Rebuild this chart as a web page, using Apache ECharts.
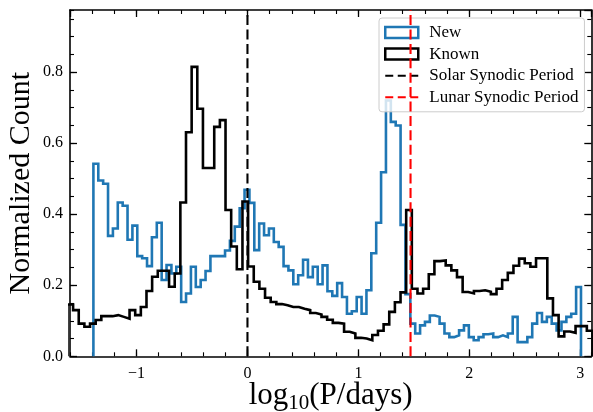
<!DOCTYPE html>
<html>
<head>
<meta charset="utf-8">
<script src="https://cdn.jsdelivr.net/npm/echarts@6/dist/echarts.min.js"></script>
<style>
  html, body { margin: 0; padding: 0; background: #fff; }
  #chart { width: 593px; height: 412px; }
</style>
</head>
<body>
<div id="chart"></div>
<script>
// ---- Histogram data: log10(period / days), normalized counts per bin ----
const newBinStart = -1.389;
const newBinWidth = 0.04396;
const newCounts = [
  0.542, 0.495, 0.486, 0.339, 0.360, 0.433, 0.424, 0.328, 0.368, 0.282,
  0.276, 0.254, 0.335, 0.376, 0.215, 0.257, 0.233, 0.252, 0.153, 0.177,
  0.252, 0.195, 0.215, 0.240, 0.282, 0.282, 0.282, 0.298, 0.325, 0.365,
  0.417, 0.469, 0.432, 0.299, 0.374, 0.341, 0.360, 0.322, 0.308, 0.254,
  0.242, 0.203, 0.228, 0.272, 0.223, 0.252, 0.203, 0.256, 0.183, 0.170,
  0.206, 0.167, 0.120, 0.127, 0.167, 0.120, 0.186, 0.290, 0.376, 0.518,
  0.720, 0.660, 0.650, 0.370, 0.175, 0.092, 0.064, 0.087, 0.097, 0.115,
  0.111, 0.092, 0.064, 0.054, 0.059, 0.073, 0.087, 0.054, 0.045, 0.054,
  0.062, 0.064, 0.054, 0.059, 0.054, 0.064, 0.111, 0.040, 0.040, 0.054,
  0.092, 0.122, 0.097, 0.111, 0.092, 0.073, 0.097, 0.111, 0.120, 0.195
];

const knownBinStart = -1.623;
const knownBinWidth = 0.0509;
const knownCounts = [
  0.146, 0.130, 0.092, 0.083, 0.092, 0.102, 0.113, 0.113, 0.116, 0.111,
  0.106, 0.130, 0.116, 0.139, 0.184, 0.224, 0.241, 0.241, 0.196, 0.233,
  0.433, 0.631, 0.815, 0.697, 0.530, 0.530, 0.646, 0.665, 0.412, 0.309,
  0.245, 0.436, 0.253, 0.210, 0.190, 0.165, 0.153, 0.147, 0.144, 0.139,
  0.139, 0.134, 0.130, 0.122, 0.118, 0.111, 0.103, 0.094, 0.092, 0.069,
  0.064, 0.052, 0.050, 0.045, 0.060, 0.072, 0.090, 0.125, 0.152, 0.180,
  0.412, 0.190, 0.177, 0.190, 0.231, 0.268, 0.270, 0.256, 0.242, 0.223,
  0.181, 0.177, 0.184, 0.186, 0.182, 0.175, 0.190, 0.215, 0.235, 0.255,
  0.275, 0.262, 0.252, 0.276, 0.276, 0.163, 0.116, 0.056, 0.070, 0.066,
  0.085, 0.085, 0.072
];

// Reference periods (log10 of days)
const solarSynodicLog = Math.log10(1.0);
const lunarSynodicLog = Math.log10(29.53);

// Axis ranges and tick spacing
const xRange = [-1.6, 3.1];
const yRange = [0, 0.975];
const xMinorStep = 0.2;
const yMajorStep = 0.2;
const yMinorStep = 0.05;

const seriesNames = ['New', 'Known', 'Solar Synodic Period', 'Lunar Synodic Period'];

// ---- helpers ----
const FONT = 'Liberation Serif';
const BLUE = '#1f77b4';

// Outline of a step histogram: corners of every bin, dropping to zero at both ends
function stepOutline(start, width, counts) {
  const pts = [[start, 0]];
  counts.forEach((c, i) => {
    pts.push([start + i * width, c]);
    pts.push([start + (i + 1) * width, c]);
  });
  pts.push([start + counts.length * width, 0]);
  return pts;
}

function tickText(v) {
  if (v < 0) return '\u2212' + Math.abs(v);
  return String(v);
}

const spine = { show: true, onZero: false, lineStyle: { color: '#000', width: 1.6 } };
const noSpine = { show: false, onZero: false };
const majorTick = { show: true, inside: true, length: 7, lineStyle: { color: '#000', width: 1.3 } };
const minorTickStyle = { show: true, inside: true, length: 4, lineStyle: { color: '#000', width: 1.1 } };

function xAxisDef(position, major, withLabels) {
  const ax = {
    type: 'value', gridIndex: 0, position: position,
    min: xRange[0], max: xRange[1],
    axisLine: major ? spine : noSpine,
    axisTick: major ? majorTick : minorTickStyle,
    splitLine: { show: false },
    axisLabel: { show: false }
  };
  if (major) {
    ax.splitNumber = 5;
  } else {
    ax.interval = xMinorStep;
  }
  if (withLabels) {
    ax.axisLabel = {
      show: true, showMinLabel: false, showMaxLabel: false,
      formatter: tickText, fontFamily: FONT, fontSize: 16, color: '#000', margin: 9
    };
    ax.name = '{m|log}{s|10}{m|(P/days)}';
    ax.nameLocation = 'middle';
    ax.nameGap = 22;
    ax.nameMoveOverlap = false;
    ax.nameTextStyle = {
      rich: {
        m: { fontFamily: FONT, fontSize: 31, lineHeight: 36, color: '#000' },
        s: { fontFamily: FONT, fontSize: 21, lineHeight: 16, verticalAlign: 'bottom', color: '#000' }
      }
    };
  }
  return ax;
}

function yAxisDef(position, major, withLabels) {
  const ax = {
    type: 'value', gridIndex: 0, position: position,
    min: yRange[0], max: yRange[1],
    interval: major ? yMajorStep : yMinorStep,
    axisLine: major ? spine : noSpine,
    axisTick: major ? majorTick : minorTickStyle,
    splitLine: { show: false },
    axisLabel: { show: false }
  };
  if (withLabels) {
    ax.axisLabel = {
      show: true, showMaxLabel: false,
      formatter: v => v.toFixed(1), fontFamily: FONT, fontSize: 16, color: '#000', margin: 7
    };
    ax.name = 'Normalized Count';
    ax.nameLocation = 'middle';
    ax.nameRotate = 90;
    ax.nameGap = 33.5;
    ax.nameMoveOverlap = false;
    ax.nameTextStyle = { fontFamily: FONT, fontSize: 30, color: '#000' };
  }
  return ax;
}

// Dashed legend handle drawn inside a 33 x 11 box
const dashIcon = 'path://M0,0M33,11M0,4.5h8v2h-8zM12.5,4.5h8v2h-8zM25,4.5h8v2h-8z';

const chart = echarts.init(document.getElementById('chart'), null, { renderer: 'canvas' });

chart.setOption({
  animation: false,
  backgroundColor: '#fff',
  grid: { left: 70, right: 1.7, top: 10, bottom: 55.7, containLabel: false, outerBoundsMode: 'none' },
  xAxis: [
    xAxisDef('bottom', true, true),
    xAxisDef('bottom', false, false),
    xAxisDef('top', true, false),
    xAxisDef('top', false, false)
  ],
  yAxis: [
    yAxisDef('left', true, true),
    yAxisDef('left', false, false),
    yAxisDef('right', true, false),
    yAxisDef('right', false, false)
  ],
  legend: {
    orient: 'vertical',
    left: 379, top: 18,
    padding: [6, 6, 6, 5],
    itemGap: 4.6,
    itemWidth: 33, itemHeight: 11,
    backgroundColor: 'rgba(255,255,255,0.8)',
    borderColor: '#cccccc', borderWidth: 1, borderRadius: 3,
    textStyle: { fontFamily: FONT, fontSize: 17, color: '#000', lineHeight: 16, padding: [0, 0, 0, 6] },
    selectedMode: false,
    data: [
      { name: seriesNames[0], icon: 'rect', itemStyle: { color: '#fff', borderColor: BLUE, borderWidth: 2.5 } },
      { name: seriesNames[1], icon: 'rect', itemStyle: { color: '#fff', borderColor: '#000', borderWidth: 2.5 } },
      { name: seriesNames[2], icon: dashIcon, itemStyle: { color: '#000', borderWidth: 0 } },
      { name: seriesNames[3], icon: dashIcon, itemStyle: { color: '#ff0000', borderWidth: 0 } }
    ]
  },
  series: [
    {
      name: seriesNames[0], type: 'line', xAxisIndex: 0, yAxisIndex: 0,
      data: stepOutline(newBinStart, newBinWidth, newCounts),
      showSymbol: false, symbol: 'none', clip: true,
      lineStyle: { color: BLUE, width: 2.6, join: 'miter' },
      itemStyle: { color: BLUE }, z: 2
    },
    {
      name: seriesNames[1], type: 'line', xAxisIndex: 0, yAxisIndex: 0,
      data: stepOutline(knownBinStart, knownBinWidth, knownCounts),
      showSymbol: false, symbol: 'none', clip: true,
      lineStyle: { color: '#000', width: 2.6, join: 'miter' },
      itemStyle: { color: '#000' }, z: 3
    },
    {
      name: seriesNames[2], type: 'line', xAxisIndex: 0, yAxisIndex: 0,
      data: [[solarSynodicLog, yRange[0]], [solarSynodicLog, yRange[1]]],
      showSymbol: false, symbol: 'none', clip: true,
      lineStyle: { color: '#000', width: 2.1, type: [10, 4.4] },
      itemStyle: { color: '#000' }, z: 4
    },
    {
      name: seriesNames[3], type: 'line', xAxisIndex: 0, yAxisIndex: 0,
      data: [[lunarSynodicLog, yRange[0]], [lunarSynodicLog, yRange[1]]],
      showSymbol: false, symbol: 'none', clip: true,
      lineStyle: { color: '#ff0000', width: 2.1, type: [10, 4.4] },
      itemStyle: { color: '#ff0000' }, z: 4
    }
  ]
});
</script>
</body>
</html>
